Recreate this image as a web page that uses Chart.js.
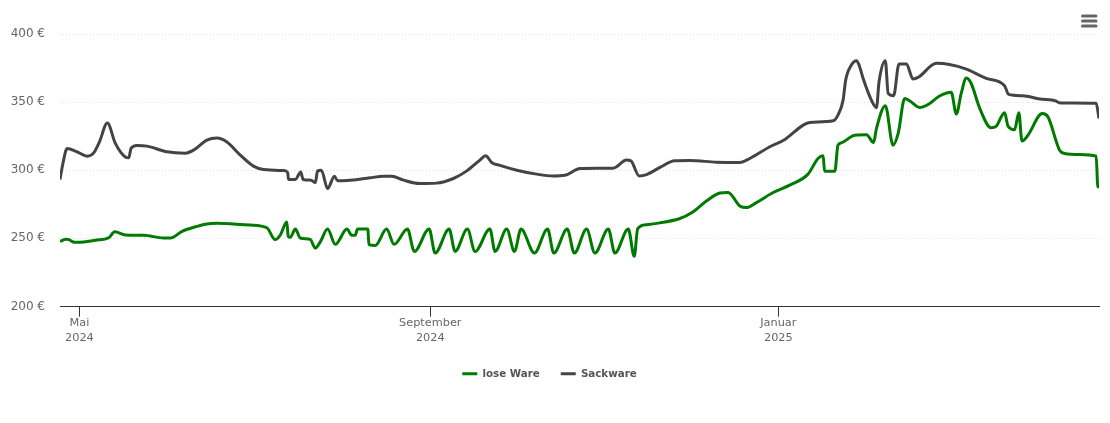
<!DOCTYPE html>
<html><head><meta charset="utf-8">
<style>html,body{margin:0;padding:0;background:#fff}#w{width:1110px;height:423px;position:relative}</style>
<script src="https://cdn.jsdelivr.net/npm/chart.js@4"></script></head>
<body><div id="w"><canvas id="c"></canvas></div>
<script>
// days relative to 1 May 2024
const loseDays=[-6.8,-4.7,-3.7,-1.75,1.5,5.6,10.3,12.4,16.1,22.5,29.5,31.9,36,41.2,44.7,48.2,54,59.9,65.7,68.6,70.4,72.7,73.2,73.9,75.7,77.4,80.9,82.7,84.4,87,89.7,93.8,95.5,96.7,97.5,101.1,101.5,103.7,107.7,110.3,115,117.4,122.6,124.7,129.6,131.7,136,138.7,143.9,145.7,149.8,152.5,154.8,159.5,164.1,166.3,171,173.5,177.8,180.7,185.4,187.7,192.4,194.5,195.7,198.8,203.5,210.5,214.6,219.8,224.5,227.4,231.5,233.8,237.3,243.2,249,255.4,258.9,260.7,261.2,264.8,265.9,267.1,271.8,275.9,278.4,279.4,282.5,285.2,287,289.3,291,294.5,297.5,301.5,305.6,307.4,309.1,310.9,312.6,315.6,319.6,321.4,324.3,325.5,327.8,329.3,330.4,332.5,337.5,339.5,343.6,345.3,350.6,356.4,357,357.4];
const loseValues=[248,249.5,249.3,247.3,247.5,248.8,250.7,255,252.7,252.5,250.5,250.5,255.4,259,260.8,261.3,260.8,260,258,249.3,252.5,262.3,251.7,251,257,250.5,249.5,243,247.5,257,245.8,257,252.5,252.5,257,257,245.6,245,257,245.8,257,240.6,257,239.4,257,240.6,257,240.6,257,240.6,257,240.6,257,239.4,257,239.4,257,239.4,257,239.4,257,239.4,257,237,257.4,260.3,261.6,264.8,269,277.6,283.5,284,274,272.8,276.5,283.9,289.3,297.4,308.9,310.9,299.6,299.6,318.7,320.4,326,326.3,320.7,331,347.7,318.7,327.3,353,351.3,346.4,348.6,354.8,357.5,341.5,356.7,368,364,345.7,331.5,332.7,342.5,332.7,330,342.5,321.7,326,342,339.5,315,312.6,311.8,310.6,288,289];
const sackDays=[-6.8,-5.8,-4.3,-0.8,2.9,5,7,9.8,12.6,16.1,17.3,18.1,20.2,23.7,30.7,37.1,40,44.7,48.2,51.7,56.4,61,64.6,71.6,73,73.3,75.7,77.6,78.4,81.2,82.7,83.5,84.8,87,89.4,90.5,93.8,101.9,106.6,109.5,113.6,119.4,125.2,131.1,135.8,140.4,142.4,144.5,147.4,153.3,160.3,166.1,170.2,175.5,181.3,187.1,191.8,193.3,196.2,198.8,203.5,208.7,214,223.3,231.5,235,242,247.3,253.7,256,264.2,265.9,267.7,268.6,270.6,272.4,273.3,274.7,277.6,279.4,280.3,282.5,283.5,285.4,287.3,289.9,292.2,294,300.4,305,310.9,317.9,324.3,325.7,330.7,336.6,342.4,343.4,348.3,356.4,357.4];
const sackValues=[293.5,305,316.3,313.8,310.6,313,321,334.9,320,310,309.4,316.3,318.5,318,313.8,312.8,315,322.4,323.9,321,311.4,303.3,300.8,300,298.6,293.5,293.5,299,293.5,293,291.2,299.8,300.3,286.8,295.9,292.5,292.7,294.7,295.9,295.9,293,290.5,290.8,294.2,299.8,307.7,310.9,306,303.8,300.3,297.4,296.1,296.6,301.5,301.8,301.8,307.7,307.2,296.1,297.1,302.3,307.2,307.4,306.2,306,308.9,317.5,322.9,333.4,335.4,336.6,340.8,351.8,366.5,377.6,380.8,377.6,367.8,351.8,346.2,365.3,380.8,356.7,355,378.3,378.3,367.3,368.5,378.8,378,374.6,367.8,362.4,356,355,352.6,351.1,349.9,349.6,349.4,338.3];
const tickDays=[0,123,245];
const tickLabels=[["Mai","2024"],["September","2024"],["Januar","2025"]];
const names=["lose Ware","Sackware"];
const pts=(x,y)=>x.map((d,i)=>({x:d,y:y[i]}));
const font='"DejaVu Sans",sans-serif';
const menu={id:'menu',afterDraw(ch){const c=ch.ctx;c.save();c.strokeStyle='#666';c.lineWidth=3;c.lineCap='round';
 [16,21,26].forEach(y=>{c.beginPath();c.moveTo(1082.5,y);c.lineTo(1096,y);c.stroke();});c.restore();}};
new Chart(document.getElementById('c'),{type:'line',plugins:[menu],
data:{datasets:[
 {label:names[0],data:pts(loseDays,loseValues),borderColor:'#007a00',backgroundColor:'#007a00',borderWidth:3,cubicInterpolationMode:'monotone',pointRadius:0},
 {label:names[1],data:pts(sackDays,sackValues),borderColor:'#444444',backgroundColor:'#444444',borderWidth:3,cubicInterpolationMode:'monotone',pointRadius:0}]},
options:{responsive:true,maintainAspectRatio:false,animation:false,
 layout:{padding:{top:34.5,right:11,left:0,bottom:34}},
 plugins:{tooltip:{enabled:false},title:{display:false},
  legend:{position:'bottom',labels:{usePointStyle:true,pointStyle:'line',pointStyleWidth:15,boxWidth:15,boxHeight:8,padding:21,color:'#555',font:{family:font,size:10.3,weight:'bold'},
   generateLabels(ch){return ch.data.datasets.map((d,i)=>({text:d.label,strokeStyle:d.borderColor,fillStyle:d.borderColor,lineWidth:3,pointStyle:'line',fontColor:'#555',datasetIndex:i}));}}}},
 scales:{
  x:{type:'linear',min:-6.8,max:357.4,
   afterBuildTicks(a){a.ticks=tickDays.map(v=>({value:v}));},
   afterFit(a){a.height=41;},
   border:{color:'#333',width:1},
   grid:{drawOnChartArea:false,drawTicks:true,tickLength:10,tickColor:'#333',tickWidth:1},
   ticks:{autoSkip:false,maxRotation:0,padding:-1,color:'#666',font:{family:font,size:11.3,lineHeight:1.33},
    callback(v){return tickLabels[tickDays.indexOf(v)];}}},
  y:{min:200,max:400,
   afterFit(a){a.width=60;},
   border:{display:false,dash:[1,2]},
   grid:{color:'#e0e0e0',lineWidth:1,drawTicks:false,tickLength:0},
   ticks:{stepSize:50,padding:15,labelOffset:-0.3,color:'#666',font:{family:font,size:12},callback:v=>v+' €'}}
 }}});
</script></body></html>
